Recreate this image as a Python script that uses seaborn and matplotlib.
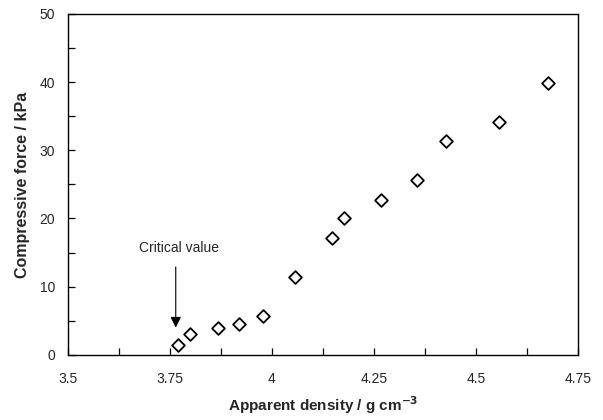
import numpy as np
import pandas as pd
import matplotlib
matplotlib.use('Agg')
import matplotlib.pyplot as plt
import seaborn as sns
from matplotlib.ticker import MultipleLocator

# Data
density = [3.770, 3.799, 3.868, 3.919, 3.979, 4.057, 4.148, 4.178,
           4.268, 4.357, 4.427, 4.557, 4.677]
force = [1.4, 3.0, 4.0, 4.6, 5.7, 11.4, 17.1, 20.0,
         22.7, 25.6, 31.3, 34.1, 39.8]
x_ticks = [3.5, 3.75, 4.0, 4.25, 4.5, 4.75]
x_tick_labels = ['3.5', '3.75', '4', '4.25', '4.5', '4.75']
y_ticks = [0, 10, 20, 30, 40, 50]

sns.set_style('white')
plt.rcParams['font.family'] = ['Liberation Sans', 'DejaVu Sans']

df = pd.DataFrame({'density': density, 'force': force})

fig = plt.figure(figsize=(6.03, 4.2), dpi=100)
ax = fig.add_axes([0.112, 0.155, 0.8465, 0.812])

sns.scatterplot(data=df, x='density', y='force', marker='D', s=42,
                facecolor='white', edgecolor='black', linewidth=1.3, ax=ax)

ax.set_xlim(3.5, 4.75)
ax.set_ylim(0, 50)
ax.set_xticks(x_ticks)
ax.set_xticklabels(x_tick_labels)
ax.set_yticks(y_ticks)
ax.xaxis.set_minor_locator(MultipleLocator(0.125))
ax.yaxis.set_minor_locator(MultipleLocator(5))
ax.tick_params(which='both', direction='in', length=5, width=0.9, color='black',
               labelsize=10, pad=9, bottom=True, left=True)
ax.tick_params(axis='x', pad=12)

for sp in ax.spines.values():
    sp.set_color('black')
    sp.set_linewidth(1.0)

ax.set_xlabel('Apparent density / g cm$^{\\mathbf{-3}}$', fontsize=11,
              fontweight='bold', labelpad=6)
ax.set_ylabel('Compressive force / kPa', fontsize=11.5, fontweight='bold', labelpad=7)

# Critical value arrow
ax.annotate('', xy=(3.765, 3.6), xytext=(3.765, 13.3),
            arrowprops=dict(arrowstyle='-|>', color='black', lw=0.8,
                            mutation_scale=16))
ax.text(3.773, 15.7, 'Critical value', ha='center', va='center', fontsize=10)

fig.savefig('out.png', dpi=100)
